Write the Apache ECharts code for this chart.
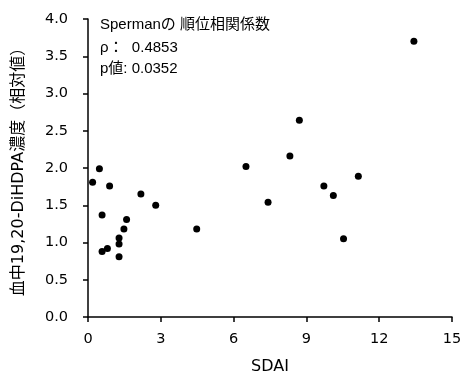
<!DOCTYPE html>
<html><head><meta charset="utf-8">
<script src="https://cdn.jsdelivr.net/npm/echarts@6/dist/echarts.min.js"></script>
<style>html,body{margin:0;padding:0;background:#fff}#c{width:463px;height:376px}</style>
</head><body><div id="c"></div>
<script>
const sdai = [0.47,0.19,0.89,2.18,2.79,0.58,1.59,1.48,4.48,1.28,1.28,0.80,0.58,1.28,8.71,8.32,6.51,11.14,9.72,10.11,7.42,10.53,13.43];
const conc = [1.99,1.81,1.76,1.65,1.50,1.37,1.31,1.18,1.18,1.06,0.98,0.92,0.88,0.81,2.64,2.16,2.02,1.89,1.76,1.63,1.54,1.05,3.70];
const xTicks = [0,3,6,9,12,15];
const yTicks = [0,0.5,1,1.5,2,2.5,3,3.5,4];
const annot = ['Spermanの 順位相関係数','ρ：  0.4853','p値: 0.0352'];
const font = '"Liberation Sans", "Noto Sans CJK JP", sans-serif';
const wfont = '"DejaVu Sans", "Noto Sans CJK JP", sans-serif';
const chart = echarts.init(document.getElementById('c'));
chart.setOption({
  animation:false,
  backgroundColor:'#fff',
  grid:{left:88,right:11,top:19,bottom:59,outerBoundsMode:'none',containLabel:false},
  xAxis:{type:'value',min:0,max:15,interval:3,name:'SDAI',nameLocation:'middle',nameGap:42,
    nameTextStyle:{color:'#000',fontSize:16,fontFamily:wfont},
    axisLine:{lineStyle:{color:'#000',width:1.5}},axisTick:{length:5,lineStyle:{color:'#000',width:1.5}},
    axisLabel:{color:'#000',fontSize:14.5,fontFamily:wfont,margin:15,formatter:v=>xTicks.includes(v)?String(v):''},
    splitLine:{show:false}},
  yAxis:{type:'value',min:0,max:4,interval:0.5,name:'血中19,20-DiHDPA濃度（相対値）',nameLocation:'middle',nameGap:61,nameRotate:90,
    nameTextStyle:{color:'#000',fontSize:16,fontFamily:wfont},
    axisLine:{show:true,lineStyle:{color:'#000',width:1.5}},axisTick:{show:true,length:5,lineStyle:{color:'#000',width:1.5}},
    axisLabel:{color:'#000',fontSize:14.5,fontFamily:wfont,margin:20,formatter:v=>yTicks.includes(v)?v.toFixed(1):''},
    splitLine:{show:false}},
  graphic:[
    {type:'text',left:100,top:17,style:{text:annot[0],font:'15px '+font,fill:'#000'}},
    {type:'text',left:100,top:40,style:{text:annot[1],font:'15px '+font,fill:'#000'}},
    {type:'text',left:100,top:61,style:{text:annot[2],font:'15px '+font,fill:'#000'}}
  ],
  series:[{type:'scatter',data:sdai.map((x,i)=>[x,conc[i]]),symbolSize:7,itemStyle:{color:'#000',opacity:1}}]
});
</script></body></html>
